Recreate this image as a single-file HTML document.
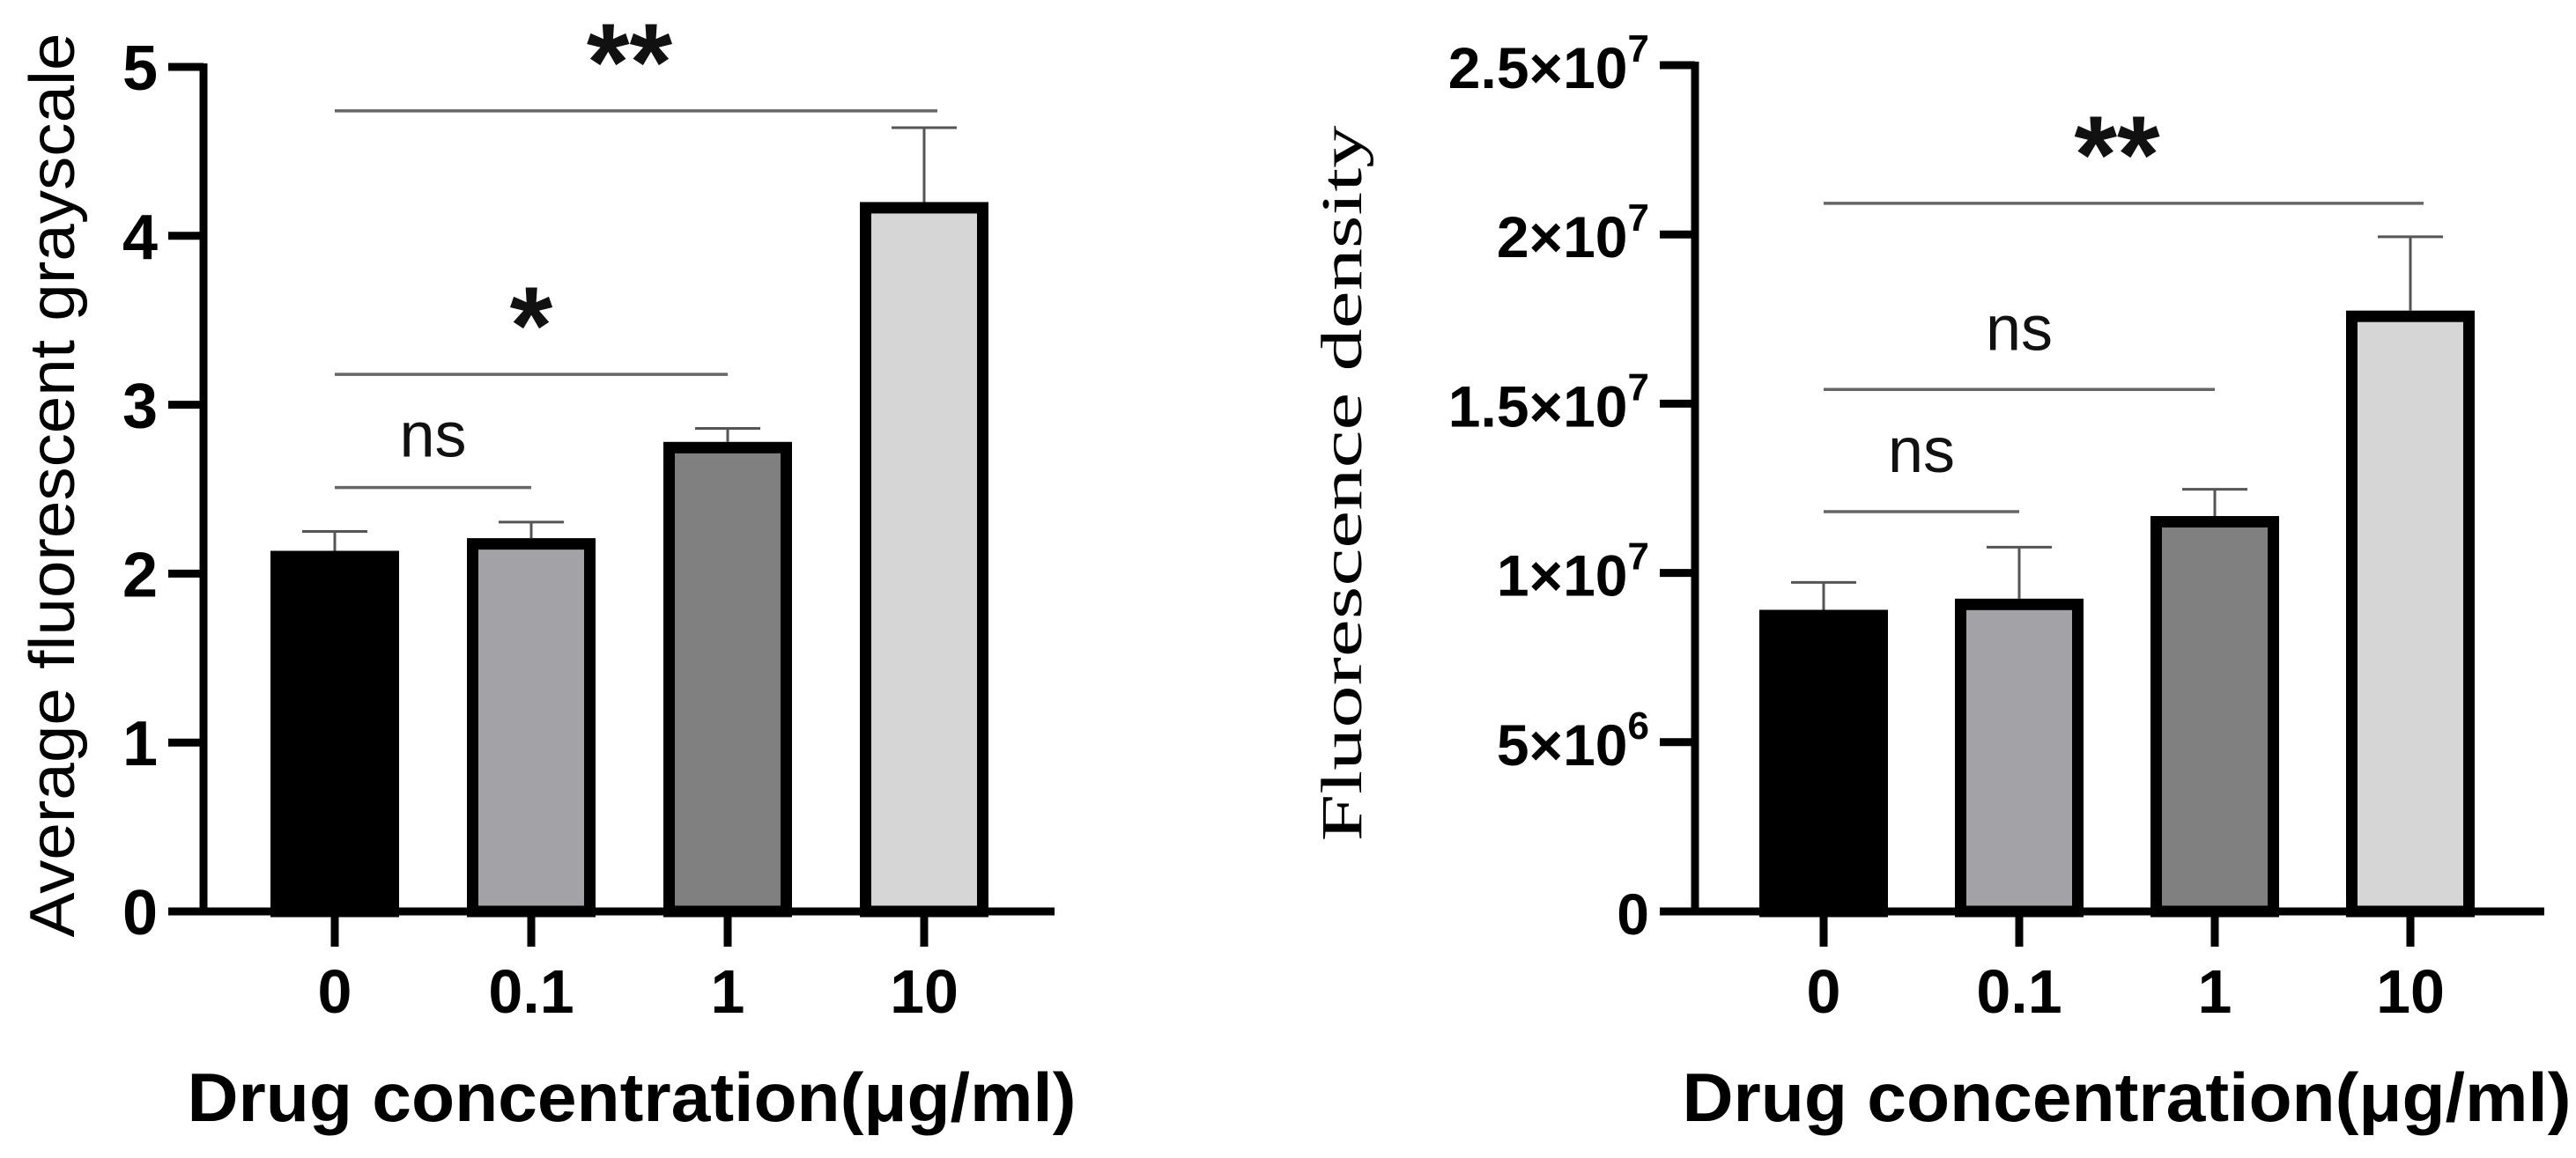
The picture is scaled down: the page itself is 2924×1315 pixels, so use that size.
<!DOCTYPE html>
<html><head><meta charset="utf-8"><style>html,body{margin:0;padding:0;background:#fff}svg{display:block}</style></head>
<body>
<svg id="chart" xmlns="http://www.w3.org/2000/svg" width="2924" height="1315" viewBox="0 0 2924 1315" font-family="Liberation Sans, Arial, sans-serif"></svg>
<script>
const categories = ["0", "0.1", "1", "10"];
const leftValues = [2.135, 2.21, 2.78, 4.20];
const leftErrors = [0.115, 0.095, 0.08, 0.44];
const leftTicks = [0, 1, 2, 3, 4, 5];
const leftSig = [["ns", 0, 1, 2.51], ["*", 0, 2, 3.18], ["**", 0, 3, 4.74]];
const rightValues = [8.91e6, 9.24e6, 11.68e6, 17.75e6];
const rightErrors = [0.81e6, 1.52e6, 0.79e6, 2.18e6];
const rightTicks = [0, 5e6, 1e7, 1.5e7, 2e7, 2.5e7];
const rightTickLabels = [["0",""], ["5×10","6"], ["1×10","7"], ["1.5×10","7"], ["2×10","7"], ["2.5×10","7"]];
const rightSig = [["ns", 0, 1, 11.81e6], ["ns", 0, 2, 15.42e6], ["**", 0, 3, 20.92e6]];
const fills = ["#000000", "#a3a3a7", "#808080", "#d6d6d6"];

const svg = document.getElementById('chart');
const NS = 'http://www.w3.org/2000/svg';
function mk(tag, attrs, parent) {
  const e = document.createElementNS(NS, tag);
  for (const k in attrs) e.setAttribute(k, attrs[k]);
  (parent || svg).appendChild(e);
  return e;
}

function drawPanel(p) {
  const g = mk('g', {});
  
  
  const y = v => p.y0 - (v - p.min) / (p.max - p.min) * (p.y0 - p.yTop);
  const x = i => p.x0 + i * p.step;
  p.values.forEach((v, i) => {
    const cx = x(i), w = 146, bw = 13;
    const r = mk('rect', {x: cx - w/2 + bw/2, y: y(v) + bw/2, width: w - bw, height: p.y0 - y(v) - bw/2, fill: fills[i], stroke: '#000', 'stroke-width': bw}, g);
    
    
    const top = v + p.errors[i];
    const el = mk('path', {d: `M${cx} ${y(v)} V${y(top)} M${cx-37} ${y(top)} H${cx+37}`, stroke: '#555', 'stroke-width': 3, fill: 'none'}, g);
    
    
  });
  const ax = mk('path', {d: `M${p.axisX} ${p.yTop-4} V${p.y0} M${p.axisX-40} ${p.y0} H${p.axisRight}`, stroke: '#000', 'stroke-width': 9, fill: 'none'}, g);
  
  
  p.ticks.forEach((t, i) => {
    const tk = mk('line', {x1: p.axisX - 40, x2: p.axisX, y1: y(t), y2: y(t), stroke: '#000', 'stroke-width': 9}, g);
    
    
    const lab = mk('text', {x: p.axisX - 52, y: y(t) + 26, 'text-anchor': 'end', 'font-size': p.tickFont, 'font-weight': 'bold'}, g);
    
    
    const tl = p.tickLabels[i];
    lab.textContent = tl[0];
    if (tl[1]) { const s = mk('tspan', {'font-size': 44, dy: -30}, lab); s.textContent = tl[1]; }
  });
  categories.forEach((c, i) => {
    const tk = mk('line', {x1: x(i), x2: x(i), y1: p.y0, y2: p.y0 + 40, stroke: '#000', 'stroke-width': 9}, g);
    
    
    const lab = mk('text', {x: x(i), y: 1150, 'text-anchor': 'middle', 'font-size': 70, 'font-weight': 'bold'}, g);
    
    
    lab.textContent = c;
  });
  p.sig.forEach(s => {
    const ln = mk('line', {x1: x(s[1]), x2: x(s[2]) + (s[2] === 3 ? 15 : 0), y1: y(s[3]), y2: y(s[3]), stroke: '#666', 'stroke-width': 3.5}, g);
    
    
    const mid = (x(s[1]) + x(s[2])) / 2;
    const isStar = s[0] !== 'ns';
    const t = mk('text', {x: mid, y: isStar ? y(s[3]) - 12 : y(s[3]) - p.nsOff, 'text-anchor': 'middle', 'font-size': isStar ? 125 : 72, 'font-weight': isStar ? 'bold' : 'normal', fill: '#111'}, g);
    
    
    t.textContent = s[0];
  });
  const xt = mk('text', {x: p.xTitleX, y: 1273, 'text-anchor': 'middle', 'font-size': 78, 'font-weight': 'bold', textLength: 1009, lengthAdjust: 'spacingAndGlyphs'}, g);
  
  
  xt.textContent = 'Drug concentration(μg/ml)';
  const yt = mk('text', {x: 0, y: 0, 'text-anchor': 'middle', 'font-size': p.yFont, 'font-family': p.yFamily, textLength: p.yLen, lengthAdjust: 'spacingAndGlyphs', transform: `translate(${p.yTitleX},${p.yTitleY}) rotate(-90)`}, g);
  
  
  yt.textContent = p.yTitle;
}

drawPanel({name: 'left-chart', min: 0, max: 5, y0: 1035, yTop: 76, x0: 380, step: 223, axisX: 231, axisRight: 1197,
  values: leftValues, errors: leftErrors, ticks: leftTicks, tickLabels: leftTicks.map(t => [String(t), '']),
  sig: leftSig, tickFont: 72, nsOff: 35, xTitleX: 717, yTitle: 'Average fluorescent grayscale',
  yFont: 72, yFamily: 'Liberation Sans, Arial, sans-serif', yLen: 1027, yTitleX: 84, yTitleY: 551});
drawPanel({name: 'right-chart', min: 0, max: 2.5e7, y0: 1035, yTop: 74, x0: 2070, step: 222, axisX: 1924, axisRight: 2888,
  values: rightValues, errors: rightErrors, ticks: rightTicks, tickLabels: rightTickLabels,
  sig: rightSig, tickFont: 66, nsOff: 45, xTitleX: 2414, yTitle: 'Fluorescence density',
  yFont: 66, yFamily: 'Liberation Serif, serif', yLen: 813, yTitleX: 1545, yTitleY: 549});
</script>
</body></html>
